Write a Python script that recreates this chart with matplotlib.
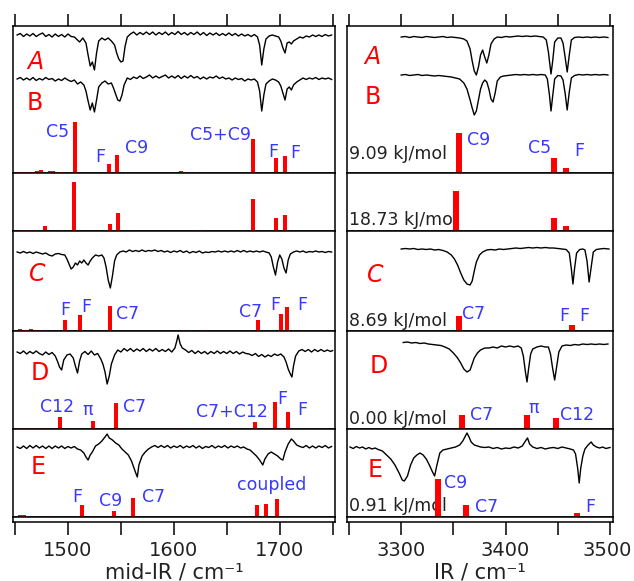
"""Stacked IR spectra (mid-IR and 3 um region) with computed stick spectra."""

import matplotlib.pyplot as plt
from matplotlib.transforms import ScaledTranslation

plt.rcParams["font.family"] = ["DejaVu Sans"]

# ---------------- data ----------------
mid_ticks = [1450, 1500, 1550, 1600, 1650, 1700, 1750]
mid_ticklabels = ["", "1500", "", "1600", "", "1700", ""]
ir_ticks = [3250, 3300, 3350, 3400, 3450, 3500]
ir_ticklabels = ["", "3300", "", "3400", "", "3500"]

# measured traces: (wavenumber, signal relative to baseline)
mid_A = [(1452, 0), (1455, 1.5), (1458, -1.5), (1461, 1), (1464, -1), (1467, 1.5), (1470, -1.5), (1473, 0.5),
         (1476, 2), (1479, -1.5), (1482, 0.5), (1485, -2), (1488, 1), (1491, -1.5), (1494, 0.5), (1497, -2),
         (1500, 1), (1503, -1.5), (1506, -2), (1508, -4), (1511, -7), (1514, -3), (1517, -8), (1519, -20),
         (1521, -31), (1523, -27), (1525, -35), (1527, -18), (1529, -6), (1532, -3), (1535, -5), (1538, -3),
         (1541, -6), (1544, -10), (1546, -18), (1548, -24), (1550, -27), (1552, -26), (1554, -11), (1556, -2),
         (1559, 1), (1562, 3), (1565, 0), (1568, 2.5), (1571, 0.5), (1574, 3), (1577, 0.5), (1580, 3), (1583, 0),
         (1586, 2.5), (1589, 0.5), (1592, 3), (1595, 0), (1598, 2.5), (1601, 0.5), (1604, 3.5), (1607, 0.5),
         (1610, 2.5), (1613, 0), (1616, 2.5), (1619, 0.5), (1622, 3), (1625, 0), (1628, 2.5), (1631, -0.5),
         (1634, 2), (1637, 0), (1640, 2), (1643, -0.5), (1646, 1.5), (1649, -0.5), (1652, 2), (1655, -0.5),
         (1658, 1.5), (1661, -1), (1664, 1), (1667, -1), (1670, 0.5), (1673, -1.5), (1676, 0.5), (1679, -2),
         (1681, -10), (1683, -30), (1685, -14), (1687, -4), (1690, -1), (1693, 0), (1696, -1), (1699, -2),
         (1701, -6), (1703, -13), (1705, -18), (1707, -8), (1709, -7), (1711, -9), (1713, -6), (1716, -4),
         (1719, -2), (1722, -3), (1725, -1), (1728, -2), (1731, 0), (1734, -1.5), (1737, 0), (1740, -1.5),
         (1743, 0.5), (1746, -1), (1749, 0)]
mid_B = [(1452, 0), (1455, 1.5), (1458, -1), (1461, 1), (1464, -1), (1467, 1.5), (1470, -1.5), (1473, 0.5),
         (1476, -1), (1479, 1.5), (1482, -0.5), (1485, 0.5), (1488, -2), (1491, 0), (1494, -1.5), (1497, 1),
         (1500, -1), (1503, -2.5), (1506, -1), (1509, -5), (1512, -3), (1515, -6), (1517, -12), (1519, -22),
         (1521, -31), (1523, -24), (1525, -33), (1527, -21), (1529, -8), (1532, -4), (1535, -2), (1538, -5),
         (1541, -4), (1543, -9), (1545, -15), (1547, -21), (1549, -22), (1551, -16), (1553, -6), (1556, 1),
         (1559, -0.5), (1562, 2), (1565, 0.5), (1568, 3), (1571, 0.5), (1574, 2), (1577, 4), (1580, 1), (1583, 3),
         (1586, 1), (1589, 2.5), (1592, 4), (1595, 1), (1598, 3), (1601, 1), (1604, 3.5), (1607, 0.5), (1610, 3),
         (1613, 1), (1616, 3.5), (1619, 1), (1622, 2.5), (1625, 0), (1628, 2), (1631, 0), (1634, 2), (1637, 1),
         (1640, 3), (1643, 0.5), (1646, 2), (1649, 0), (1652, 1), (1655, -1), (1658, 1), (1661, -0.5),
         (1664, 0.5), (1667, -2), (1670, 0), (1673, -1), (1676, 0), (1679, -3), (1681, -12), (1683, -32),
         (1685, -16), (1687, -5), (1690, -2), (1693, 0), (1696, -1), (1699, -3), (1701, -7), (1703, -14),
         (1705, -21), (1707, -10), (1709, -8), (1711, -11), (1713, -6), (1716, -3), (1719, -1), (1722, 1),
         (1725, -0.5), (1728, 1), (1731, 0), (1734, 1.5), (1737, -0.5), (1740, 1), (1743, 0), (1746, 1),
         (1749, -0.5)]
mid_C = [(1452, 0), (1455, -1), (1458, 0.5), (1461, -1), (1464, 0), (1467, -1.5), (1470, 0), (1473, -1),
         (1476, -2), (1479, -1), (1482, -3), (1485, -4), (1488, -2), (1491, -1.5), (1494, -2.5), (1497, -3),
         (1499, -7), (1501, -12), (1503, -17), (1505, -15), (1507, -11), (1509, -13), (1511, -9), (1513, -11),
         (1515, -8), (1517, -11), (1519, -13), (1521, -9), (1523, -6), (1526, -3), (1529, -4), (1532, -3),
         (1534, -6), (1536, -15), (1538, -28), (1540, -36), (1542, -24), (1544, -9), (1546, -3), (1549, 0),
         (1552, 1), (1555, 0), (1558, 2), (1561, 0.5), (1564, 1.5), (1567, 0.5), (1570, 2), (1573, 0.5),
         (1576, 1.5), (1579, 1), (1582, 2), (1585, 0.5), (1588, 1.5), (1591, 0), (1594, 1), (1597, -0.5),
         (1600, 1), (1603, 0), (1606, 1.5), (1609, -0.5), (1612, 1), (1615, -1), (1618, 0.5), (1621, -0.5),
         (1624, 1), (1627, -1), (1630, 0), (1633, -0.5), (1636, 0.5), (1639, 0), (1642, 1), (1645, 0), (1648, 1),
         (1651, 0), (1654, 1), (1657, 0), (1660, 1.5), (1663, 0), (1666, 1.5), (1669, 0), (1672, 1), (1675, 0),
         (1678, 1), (1681, 0), (1684, 1), (1687, 0), (1690, -1), (1692, -5), (1694, -15), (1696, -23),
         (1698, -10), (1700, -3), (1702, -7), (1704, -16), (1706, -21), (1708, -8), (1710, -2), (1713, 0),
         (1716, 1), (1719, 0), (1722, 1), (1725, -0.5), (1728, 0.5), (1731, 0), (1734, 1), (1737, 0),
         (1740, 0.5), (1743, -0.5), (1746, 0.5), (1749, 0)]
mid_D = [(1452, 0), (1455, -1.5), (1458, 1), (1461, -2), (1464, 0.5), (1467, -1.5), (1470, 1), (1473, -1.5),
         (1476, -3), (1479, 0), (1482, -2.5), (1485, -0.5), (1488, -4), (1490, -9), (1492, -15), (1494, -18),
         (1496, -8), (1499, -3), (1502, -2), (1505, -6), (1507, -14), (1509, -21), (1511, -9), (1513, -2),
         (1516, 0.5), (1519, -2.5), (1522, 1), (1525, -3), (1528, -1.5), (1531, -7), (1533, -12), (1535, -20),
         (1537, -32), (1539, -24), (1541, -12), (1544, -3), (1547, 2), (1550, 0), (1553, 3.5), (1556, 1),
         (1559, 3.5), (1562, 0.5), (1565, 3), (1568, 1), (1571, 3.5), (1574, 0.5), (1577, 3), (1580, 1),
         (1583, 3.5), (1586, 0.5), (1589, 2.5), (1592, 0.5), (1595, 3), (1598, 0), (1601, 4), (1603, 12),
         (1604, 17), (1606, 8), (1608, 4), (1611, 2), (1614, -0.5), (1617, 1.5), (1620, -1.5), (1623, 1),
         (1626, -1.5), (1629, 0.5), (1632, -2), (1635, 0.5), (1638, -1.5), (1641, 1), (1644, -1.5), (1647, 0.5),
         (1650, -1.5), (1653, 1), (1656, -1.5), (1659, 0.5), (1662, -2), (1665, 0), (1668, -1.5), (1671, -2),
         (1674, -3.5), (1677, -1.5), (1680, -4.5), (1683, -2.5), (1686, -5), (1689, -3), (1692, -4.5),
         (1695, -2), (1698, -3.5), (1701, -2), (1704, -5), (1706, -10), (1708, -17), (1710, -22), (1711.5, -25),
         (1713, -14), (1715, -4), (1718, 1), (1721, 2.5), (1724, 0.5), (1727, 2.5), (1730, 0), (1733, 2.5),
         (1736, 0.5), (1739, 2.5), (1742, 0.5), (1745, 2), (1748, 0.5), (1750, 1.5)]
mid_E = [(1452, 0), (1455, -1.5), (1458, 1), (1461, -1.5), (1464, 1.5), (1467, -1), (1470, 1.5), (1473, -1),
         (1476, 1), (1479, -1.5), (1482, 1), (1485, -1.5), (1488, 1), (1491, -1), (1494, 1), (1497, -1.5),
         (1500, 0.5), (1503, -1), (1506, 0.5), (1509, -2), (1512, -3), (1515, -6), (1517, -10), (1519, -13),
         (1521, -8), (1523, -5), (1526, 1), (1529, 3), (1532, 6), (1535, 10), (1537, 13), (1539, 9), (1542, 7),
         (1545, 4), (1548, 2), (1551, -2), (1554, -5), (1557, -8), (1560, -14), (1562, -20), (1564, -26),
         (1565.5, -30), (1567, -18), (1570, -9), (1573, -5), (1576, -2), (1579, 0), (1582, 1.5), (1585, -0.5),
         (1588, 1.5), (1591, -0.5), (1594, 1.5), (1597, -1), (1600, 1), (1603, -0.5), (1606, 1.5), (1609, -1),
         (1612, 1), (1615, -0.5), (1618, 1.5), (1621, -1), (1624, 1), (1627, -1.5), (1630, 0.5), (1633, -0.5),
         (1636, 1.5), (1639, -1), (1642, 1), (1645, -0.5), (1648, 1.5), (1651, -1), (1654, 1), (1657, -0.5),
         (1660, 1), (1663, -1), (1666, 0), (1669, -2), (1672, -3), (1675, -6), (1678, -9), (1681, -13),
         (1684, -18), (1686, -12), (1689, -7), (1692, -5), (1695, -7), (1698, -9), (1701, -12), (1703, -13),
         (1705, -5), (1708, 3), (1711, 8), (1713, 6), (1716, 2), (1719, 0.5), (1722, -0.5), (1725, 1.5),
         (1728, -1), (1731, 1), (1734, -1), (1737, 1), (1740, -0.5), (1743, 1.5), (1746, -1), (1749, 0.5)]

ir_A = [(3300, 0), (3304, 0.5), (3308, -0.5), (3312, 0.5), (3316, 0), (3320, -0.5), (3324, 0.5), (3328, 0),
        (3332, -0.5), (3336, 0), (3340, 0.5), (3344, -0.5), (3348, 0), (3352, -0.5), (3356, -1), (3360, -2),
        (3363, -4), (3366, -12), (3368, -24), (3370, -34), (3372, -38), (3374, -30), (3376, -18), (3378, -13),
        (3380, -20), (3382, -26), (3384, -18), (3386, -7), (3389, -2), (3392, 0), (3396, -0.5), (3400, 0.5),
        (3404, 0), (3408, 0.5), (3412, 1), (3416, 0.5), (3420, 1), (3424, 0.5), (3428, 1), (3432, 0.5),
        (3436, 0), (3439, -3), (3441, -15), (3443.5, -37), (3445, -25), (3447, -5), (3450, -1), (3453, -1),
        (3455, -6), (3457, -20), (3459, -35), (3461, -18), (3463, -3), (3466, -0.5), (3470, 0), (3474, -0.5),
        (3478, 0), (3482, -0.5), (3486, 0), (3490, -0.5), (3494, 0), (3498, -0.5)]
ir_B = [(3300, 0), (3304, 0.5), (3308, -0.5), (3312, 0), (3316, 0.5), (3320, -0.5), (3324, 0), (3328, -0.5),
        (3332, -1), (3336, -0.5), (3340, -1), (3344, -1.5), (3348, -2), (3352, -3), (3356, -4), (3360, -8),
        (3363, -14), (3366, -25), (3368, -33), (3370, -40), (3372, -36), (3374, -25), (3376, -14), (3378, -8),
        (3380, -5), (3382, -7), (3384, -14), (3386, -24), (3388, -27), (3390, -18), (3392, -6), (3395, -2),
        (3398, -1), (3402, -0.5), (3406, 0), (3410, 0.5), (3414, 0), (3418, 0.5), (3422, 0), (3426, 0.5),
        (3430, 0), (3434, 0.5), (3438, 0), (3440, -4), (3442, -20), (3443.5, -36), (3445, -22), (3447, -4),
        (3450, -0.5), (3453, -1), (3455, -5), (3457, -18), (3459, -35), (3461, -17), (3463, -3), (3466, -0.5),
        (3470, 0.5), (3474, 0), (3478, 0.5), (3482, 0), (3486, 0.5), (3490, 0), (3494, 0.5), (3498, 0)]
ir_C = [(3300, 0), (3304, 0.5), (3308, 0), (3312, 0.5), (3316, -0.5), (3320, 0), (3324, -0.5), (3328, 0),
        (3332, -1), (3336, -0.5), (3340, -1.5), (3344, -3), (3348, -6), (3351, -10), (3354, -16), (3357, -24),
        (3360, -31), (3363, -35), (3366, -36), (3368, -32), (3370, -22), (3372, -13), (3375, -6), (3378, -3),
        (3382, -1), (3386, -0.5), (3390, -1), (3394, 0), (3398, -0.5), (3402, 0), (3406, 0.5), (3410, 1),
        (3414, 0.5), (3418, 1), (3422, 1.5), (3426, 1), (3430, 1.5), (3434, 1), (3438, 1.5), (3442, 1),
        (3446, 1), (3450, 0.5), (3454, 0), (3458, -0.5), (3461, -4), (3463, -20), (3464.5, -35), (3466, -20),
        (3468, -4), (3471, -0.5), (3474, 0), (3476, -1), (3478, -12), (3480, -33), (3482, -18), (3484, -3),
        (3487, -0.5), (3490, 0), (3494, 0.5), (3499, 0)]
ir_D = [(3302, 1.5), (3306, 2), (3310, 1), (3314, 1.5), (3318, 0.5), (3322, 1), (3326, 0), (3330, -0.5),
        (3334, -1), (3338, -1.5), (3342, -3), (3346, -5), (3350, -9), (3354, -14), (3357, -19), (3360, -25),
        (3363, -28), (3366, -26), (3368, -20), (3370, -14), (3373, -9), (3376, -6), (3380, -4), (3384, -4),
        (3388, -3), (3392, -4), (3396, -2), (3400, -3), (3404, -2), (3408, -3), (3412, -2), (3415, -4),
        (3417, -12), (3419, -28), (3420.5, -38), (3422, -25), (3424, -10), (3426, -5), (3430, -3), (3434, -2),
        (3438, -3), (3441, -3), (3443, -10), (3445, -24), (3447, -36), (3449, -22), (3451, -8), (3454, -2),
        (3458, -1), (3462, -1.5), (3466, -0.5), (3470, -1), (3474, 0), (3478, -0.5), (3482, 0), (3486, -0.5),
        (3490, 0), (3494, -0.5), (3498, 0)]
ir_E = [(3251, 1), (3254, -0.5), (3257, 1.5), (3260, 0), (3263, 1), (3266, -1), (3269, 0.5), (3272, -1),
        (3275, 0), (3278, -1.5), (3282, -3), (3286, -7), (3290, -11), (3294, -17), (3298, -25), (3301, -32),
        (3303, -33), (3306, -28), (3309, -17), (3312, -10), (3315, -7), (3318, -5), (3321, -7), (3324, -11),
        (3327, -17), (3330, -24), (3332, -28), (3334, -18), (3337, -5), (3340, -2), (3344, -1), (3348, 0),
        (3352, 1), (3356, 3), (3359, 7), (3361, 11), (3363, 15), (3365, 11), (3367, 6), (3370, 3), (3373, 2),
        (3376, 1), (3380, 0.5), (3384, 1), (3388, -0.5), (3392, 0.5), (3396, -1), (3400, 0), (3404, -0.5),
        (3408, 1), (3412, 0), (3416, 2), (3419, 7), (3421, 10), (3423, 4), (3426, 1), (3430, -0.5), (3434, 0.5),
        (3438, -1), (3442, 0), (3446, 0.5), (3450, -0.5), (3454, 1), (3458, 0), (3462, -1), (3465, -2),
        (3467, -6), (3469, -20), (3470.5, -35), (3472, -20), (3474, -8), (3476, -1), (3479, 3), (3482, 6),
        (3484, 3), (3487, 1), (3490, 0), (3493, 1), (3496, -0.5), (3500, 0.5)]

# computed stick spectra, one (positions, intensities) pair per panel
mid_sticks = [
    ([1455, 1460, 1466, 1471, 1474.5, 1483, 1486, 1494, 1507, 1538.5, 1546, 1607, 1625.5, 1675, 1696.5, 1705],
     [1.5, 1.5, 1.5, 2, 3.5, 2.5, 2.5, 1.5, 51, 9, 18, 2, 1.5, 34, 15, 17]),
    ([1458, 1464, 1470, 1478, 1494, 1505.7, 1539.7, 1547.3, 1625.6, 1675, 1696.8, 1705.2],
     [1, 1, 1, 5, 1.5, 49, 7, 18, 1.5, 32, 13, 16]),
    ([1455, 1460, 1465, 1470, 1475, 1497.2, 1511.7, 1539.7, 1609.6, 1629.4, 1679.8, 1701.2, 1707.1],
     [2, 1.5, 2, 1.5, 1.5, 11, 16, 25, 1, 1, 11, 17, 24]),
    ([1455, 1462, 1470, 1478, 1492.5, 1524, 1545.4, 1604.7, 1625, 1676.4, 1695.3, 1707.8],
     [1.5, 1, 1.5, 1, 12, 8, 26, 1.5, 1, 7, 27, 17]),
    ([1454.7, 1458, 1483, 1513, 1543.8, 1561.7, 1678.2, 1687, 1697.1],
     [2.5, 2.5, 1, 12, 6, 19, 12, 13, 18]),
]
ir_sticks = [
    ([3355.7, 3446.4, 3457.9], [40, 15, 5]),
    ([3352.5, 3446.4, 3457.6], [40, 13, 5]),
    ([3355.1, 3463.9], [15, 6]),
    ([3358, 3420.2, 3448.3], [14, 14, 11]),
    ([3335.5, 3362.1, 3468.7], [38, 12, 4]),
]
energies = ["9.09 kJ/mol", "18.73 kJ/mol", "8.69 kJ/mol", "0.00 kJ/mol", "0.91 kJ/mol"]

# ---------------- layout ----------------
W, H = 634.0, 581.0
edges = [26, 173, 231, 331, 429, 517]   # panel borders, px from top
strip_bottom = 522
RED, BLUE, INK = "#ff0000", "#3838ff", "#222222"

# (panel, trace, baseline height)
mid_traces = [(0, mid_A, 138), (0, mid_B, 94), (2, mid_C, 79), (3, mid_D, 77), (4, mid_E, 70)]
ir_traces = [(0, ir_A, 136), (0, ir_B, 98), (2, ir_C, 82), (3, ir_D, 85), (4, ir_E, 69)]

mid_letters = [(0, "A", 1469, 111, "italic"), (0, "B", 1469, 70, "normal"), (2, "C", 1471, 57, "italic"),
               (3, "D", 1473.5, 56, "normal"), (4, "E", 1471.5, 49.5, "normal")]
ir_letters = [(0, "A", 3272, 115.5, "italic"), (0, "B", 3272.5, 76, "normal"), (2, "C", 3275.5, 56, "italic"),
              (3, "D", 3278.5, 63, "normal"), (4, "E", 3275.5, 47, "normal")]

mid_notes = [(0, "C5", 1490.6, 41), (0, "F", 1530.3, 16), (0, "C9", 1565.2, 25), (0, "C5+C9", 1643.6, 38),
             (0, "F", 1693.6, 21), (0, "F", 1714.4, 20),
             (2, "F", 1497.2, 21), (2, "F", 1517, 24), (2, "C7", 1556.7, 17), (2, "C7", 1672.9, 19),
             (2, "F", 1695.5, 26), (2, "F", 1721, 26),
             (3, "C12", 1489.7, 22), (3, "π", 1518.9, 19), (3, "C7", 1563.3, 22), (3, "C7+C12", 1654.9, 17),
             (3, "F", 1702.1, 30), (3, "F", 1721, 19),
             (4, "F", 1508.5, 20), (4, "C9", 1540.7, 16), (4, "C7", 1581.3, 20), (4, "coupled", 1692.7, 32)]
ir_notes = [(0, "C9", 3374, 33), (0, "C5", 3433, 25), (0, "F", 3470.3, 22),
            (2, "C7", 3369.7, 17), (2, "F", 3455.9, 15.3), (2, "F", 3475.1, 15.3),
            (3, "C7", 3377.4, 14), (3, "π", 3426.6, 20.7), (3, "C12", 3468.4, 14),
            (4, "C9", 3351.9, 33.7), (4, "C7", 3381.9, 9.7), (4, "F", 3480.8, 10.3)]
energy_heights = [19, 11, 10.3, 10, 11.3]

columns = [
    dict(x0=12.7, x1=335.0, xlim=(1447.8, 1752.2), ticks=mid_ticks, labels=mid_ticklabels,
         xlabel="mid-IR / cm⁻¹", traces=mid_traces, sticks=mid_sticks, bw=4.0,
         letters=mid_letters, notes=mid_notes, energy=False),
    dict(x0=346.7, x1=612.5, xlim=(3247.8, 3502.4), ticks=ir_ticks, labels=ir_ticklabels,
         xlabel="IR / cm⁻¹", traces=ir_traces, sticks=ir_sticks, bw=5.5,
         letters=ir_letters, notes=ir_notes, energy=True),
]

fig = plt.figure(figsize=(6.34, 5.81), dpi=100)


def add_box(x0, x1, top, bottom):
    ax = fig.add_axes([x0 / W, 1 - bottom / H, (x1 - x0) / W, (bottom - top) / H])
    for s in ax.spines.values():
        s.set_linewidth(1.1)
    ax.set_yticks([])
    ax.set_ylim(0, bottom - top)
    return ax


for col in columns:
    axes = []
    for i in range(5):
        ax = add_box(col["x0"], col["x1"], edges[i], edges[i + 1])
        ax.set_xlim(*col["xlim"])
        if i == 0:
            ax.xaxis.set_ticks_position("top")
            ax.set_xticks(col["ticks"])
            ax.tick_params(axis="x", direction="out", length=8.6, width=1.1, labeltop=False)
        else:
            ax.set_xticks([])
        pos, hgt = col["sticks"][i]
        ax.bar(pos, hgt, width=col["bw"], color=RED, zorder=4)
        if col["energy"]:
            ax.text(col["xlim"][0] + 2, energy_heights[i], energies[i], fontsize=12.5, color=INK,
                    ha="left", va="center", zorder=2)
        axes.append(ax)

    for i, trace, base in col["traces"]:
        wn = [p[0] for p in trace]
        sig = [p[1] + base for p in trace]
        axes[i].plot(wn, sig, color="black", lw=1.0, zorder=3)

    for i, letter, x, y, style in col["letters"]:
        axes[i].text(x, y, letter, color=RED, fontsize=17, fontstyle=style, ha="center", va="center")

    for i, txt, x, y in col["notes"]:
        axes[i].text(x, y, txt, color=BLUE, fontsize=12.5, ha="center", va="center", zorder=5)

    # bottom tick strip
    strip = add_box(col["x0"], col["x1"], edges[-1], strip_bottom)
    strip.set_xlim(*col["xlim"])
    strip.set_xticks(col["ticks"])
    strip.set_xticklabels(col["labels"], fontsize=14, color=INK)
    strip.tick_params(axis="x", direction="out", length=9.4, width=1.1, pad=4)
    strip.set_xlabel(col["xlabel"], fontsize=15, color=INK, labelpad=2)

# keep the last tick label inside the canvas
last = strip.get_xticklabels()[-1]
last.set_transform(last.get_transform() + ScaledTranslation(-3 / 100, 0, fig.dpi_scale_trans))

fig.savefig("out.png", dpi=100)
